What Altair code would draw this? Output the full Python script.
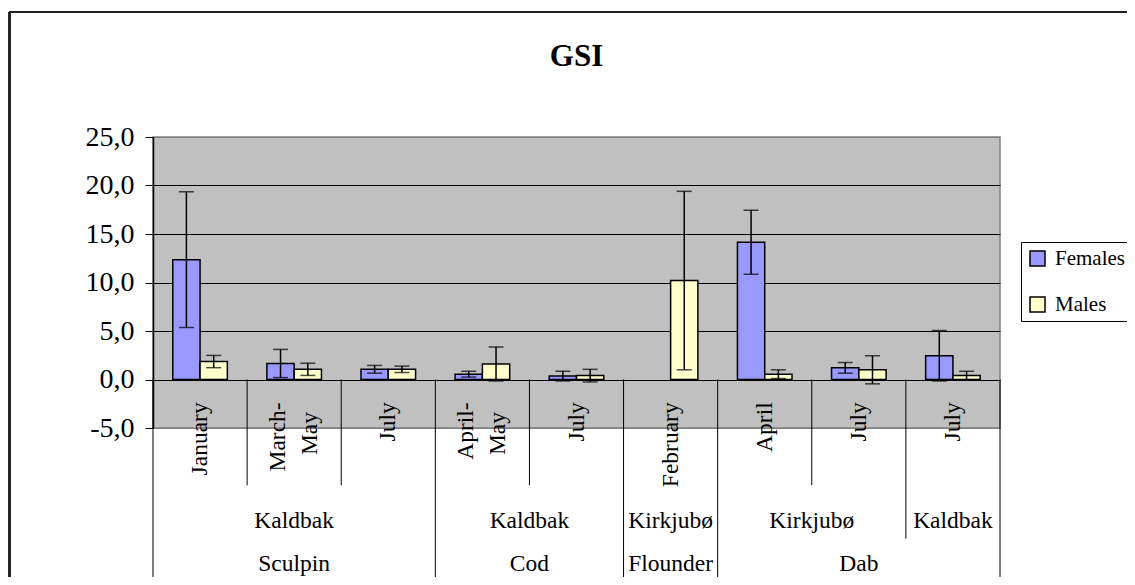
import altair as alt
import pandas as pd

# ---- data ----
species = ["Sculpin", "Sculpin", "Sculpin", "Cod", "Cod", "Flounder", "Dab", "Dab", "Dab"]
locations = ["Kaldbak", "Kaldbak", "Kaldbak", "Kaldbak", "Kaldbak",
             "Kirkjubø", "Kirkjubø", "Kirkjubø", "Kaldbak"]
months = ["January", "March-\nMay", "July", "April-\nMay", "July",
          "February", "April", "July", "July"]
female_gsi = [12.35, 1.65, 1.05, 0.55, 0.35, None, 14.15, 1.2, 2.45]
female_err = [7.0, 1.45, 0.4, 0.3, 0.5, None, 3.3, 0.55, 2.6]
male_gsi = [1.85, 1.05, 1.05, 1.6, 0.4, 10.2, 0.55, 1.0, 0.4]
male_err = [0.63, 0.63, 0.33, 1.75, 0.65, 9.2, 0.45, 1.45, 0.45]
sexes = ["Females", "Males"]
colors = ["#9999FF", "#FFFFCC"]
y_ticks = [-5, 0, 5, 10, 15, 20, 25]

FONT = "Liberation Serif"
n = len(months)

# ---- tables built from the lists ----
rows = []
for i in range(n):
    for sex, vals, errs in (("Females", female_gsi, female_err), ("Males", male_gsi, male_err)):
        v, e = vals[i], errs[i]
        rows.append(dict(slot=i, sex=sex, gsi=v,
                         lo=None if v is None else v - e,
                         hi=None if v is None else v + e))
bars_df = pd.DataFrame(rows)

# month labels: one row per text line; wrapped labels are split side by side
LINE_SHIFT = 0.34
mrows = []
for i, m in enumerate(months):
    parts = m.split("\n")
    k = len(parts)
    for j, p in enumerate(parts):
        mrows.append({"pos": i + 0.5 + (j - (k - 1) / 2) * LINE_SHIFT,
                      "label": p, "line": j})
month_df = pd.DataFrame(mrows)
month_first = month_df[month_df["line"] == 0]
month_second = month_df[month_df["line"] > 0]

def runs(keys):
    out = []
    start = 0
    for i in range(1, n + 1):
        if i == n or keys[i] != keys[start]:
            out.append((start, i))
            start = i
    return out

loc_keys = list(zip(species, locations))
loc_df = pd.DataFrame([{"pos": (a + b) / 2, "label": locations[a]} for a, b in runs(loc_keys)])
sp_df = pd.DataFrame([{"pos": (a + b) / 2, "label": species[a]} for a, b in runs(species)])

DEPTH = {"month": -10.9, "loc": -16.4, "species": -22.5}
div_rows = []
for b in range(n + 1):
    if b == 0 or b == n or species[b] != species[b - 1]:
        lvl = "species"
    elif locations[b] != locations[b - 1]:
        lvl = "loc"
    else:
        lvl = "month"
    div_rows.append({"pos": b, "y0": 0, "y1": DEPTH[lvl]})
div_df = pd.DataFrame(div_rows)

# ---- scales / axes ----
yscale = alt.Scale(domain=[-5, 25], nice=False, zero=False)
yaxis = alt.Axis(values=y_ticks, title=None,
                 labelExpr="replace(replace(format(datum.value, '.1f'), '.', ','), '\u2212', '-')",
                 grid=True,
                 gridColor={"condition": {"test": "datum.value == 25 || datum.value == -5",
                                          "value": "#808080"}, "value": "black"},
                 gridWidth=1,
                 tickSize=8, tickColor="black", domainColor="black", domainWidth=1.5,
                 labelFontSize=28, labelFont=FONT, labelColor="black", labelPadding=11)
xband = alt.X("slot:O", scale=alt.Scale(domain=list(range(n)), paddingInner=0.42, paddingOuter=0.21), axis=None)
xoff = alt.XOffset("sex:N", scale=alt.Scale(domain=sexes, paddingInner=0, paddingOuter=0))
xlin = alt.X("pos:Q", scale=alt.Scale(domain=[0, n], nice=False, zero=False), axis=None)

base = alt.Chart(bars_df)
bars = base.mark_bar(stroke="black", strokeWidth=1.5).encode(
    x=xband, xOffset=xoff,
    y=alt.Y("gsi:Q", scale=yscale, axis=yaxis),
    color=alt.Color("sex:N", scale=alt.Scale(domain=sexes, range=colors),
                    legend=alt.Legend(title=None, orient="none", legendX=868, legendY=105,
                                      strokeColor="black", fillColor="white", padding=6,
                                      symbolType="square", symbolSize=225,
                                      symbolStrokeColor="black", symbolStrokeWidth=1.5,
                                      labelFont=FONT, labelFontSize=21, labelColor="black",
                                      rowPadding=24, labelOffset=7)),
)
err = base.mark_rule(color="black", strokeWidth=1.5).encode(
    x=xband, xOffset=xoff,
    y=alt.Y("lo:Q", scale=yscale, axis=yaxis), y2="hi:Q")
cap_hi = base.mark_tick(color="black", thickness=1.5, size=15, orient="horizontal").encode(
    x=xband, xOffset=xoff, y=alt.Y("hi:Q", scale=yscale, axis=yaxis))
cap_lo = base.mark_tick(color="black", thickness=1.5, size=15, orient="horizontal").encode(
    x=xband, xOffset=xoff, y=alt.Y("lo:Q", scale=yscale, axis=yaxis))

dividers = alt.Chart(div_df).mark_rule(color="black", strokeWidth=1).encode(
    x=xlin, y=alt.Y("y0:Q", scale=yscale, axis=yaxis), y2="y1:Q")

month_txt1 = alt.Chart(month_first).mark_text(
    angle=270, align="right", baseline="middle",
    font=FONT, fontSize=23.5, color="black").encode(
    x=xlin, y=alt.datum(-2.35, scale=yscale, axis=yaxis), text="label:N")
month_txt2 = alt.Chart(month_second).mark_text(
    angle=270, align="right", baseline="middle",
    font=FONT, fontSize=23.5, color="black").encode(
    x=xlin, y=alt.datum(-3.35, scale=yscale, axis=yaxis), text="label:N")
loc_txt = alt.Chart(loc_df).mark_text(
    align="center", baseline="alphabetic", font=FONT, fontSize=23.5, color="black").encode(
    x=xlin, y=alt.datum(-15.3, scale=yscale, axis=yaxis), text="label:N")
sp_txt = alt.Chart(sp_df).mark_text(
    align="center", baseline="alphabetic", font=FONT, fontSize=23.5, color="black").encode(
    x=xlin, y=alt.datum(-19.75, scale=yscale, axis=yaxis), text="label:N")

frame_left = alt.Chart(loc_df).mark_rule(color="#222222", strokeWidth=2).encode(
    x=alt.value(-143.5), y=alt.value(-125), y2=alt.value(460))
frame_top = alt.Chart(loc_df).mark_rule(color="#222222", strokeWidth=2).encode(
    x=alt.value(-143.5), x2=alt.value(1000), y=alt.value(-125))

chart = alt.layer(
    bars, err, cap_hi, cap_lo, dividers, month_txt1, month_txt2, loc_txt, sp_txt,
    frame_left, frame_top
).resolve_scale(x="independent").properties(
    width=847, height=291,
    padding={"left": 145, "top": 129, "right": 127, "bottom": 149},
    autosize=alt.AutoSizeParams(type="none"),
    title=alt.Title("GSI", font=FONT, fontSize=31, fontWeight="bold", color="black",
                    anchor="middle", baseline="alphabetic", offset=-86),
    background="white",
).configure(font=FONT).configure_view(fill="#C0C0C0", stroke="#808080", strokeWidth=1.5)

chart.save("out.html", embed_options={"renderer": "svg", "actions": False})
